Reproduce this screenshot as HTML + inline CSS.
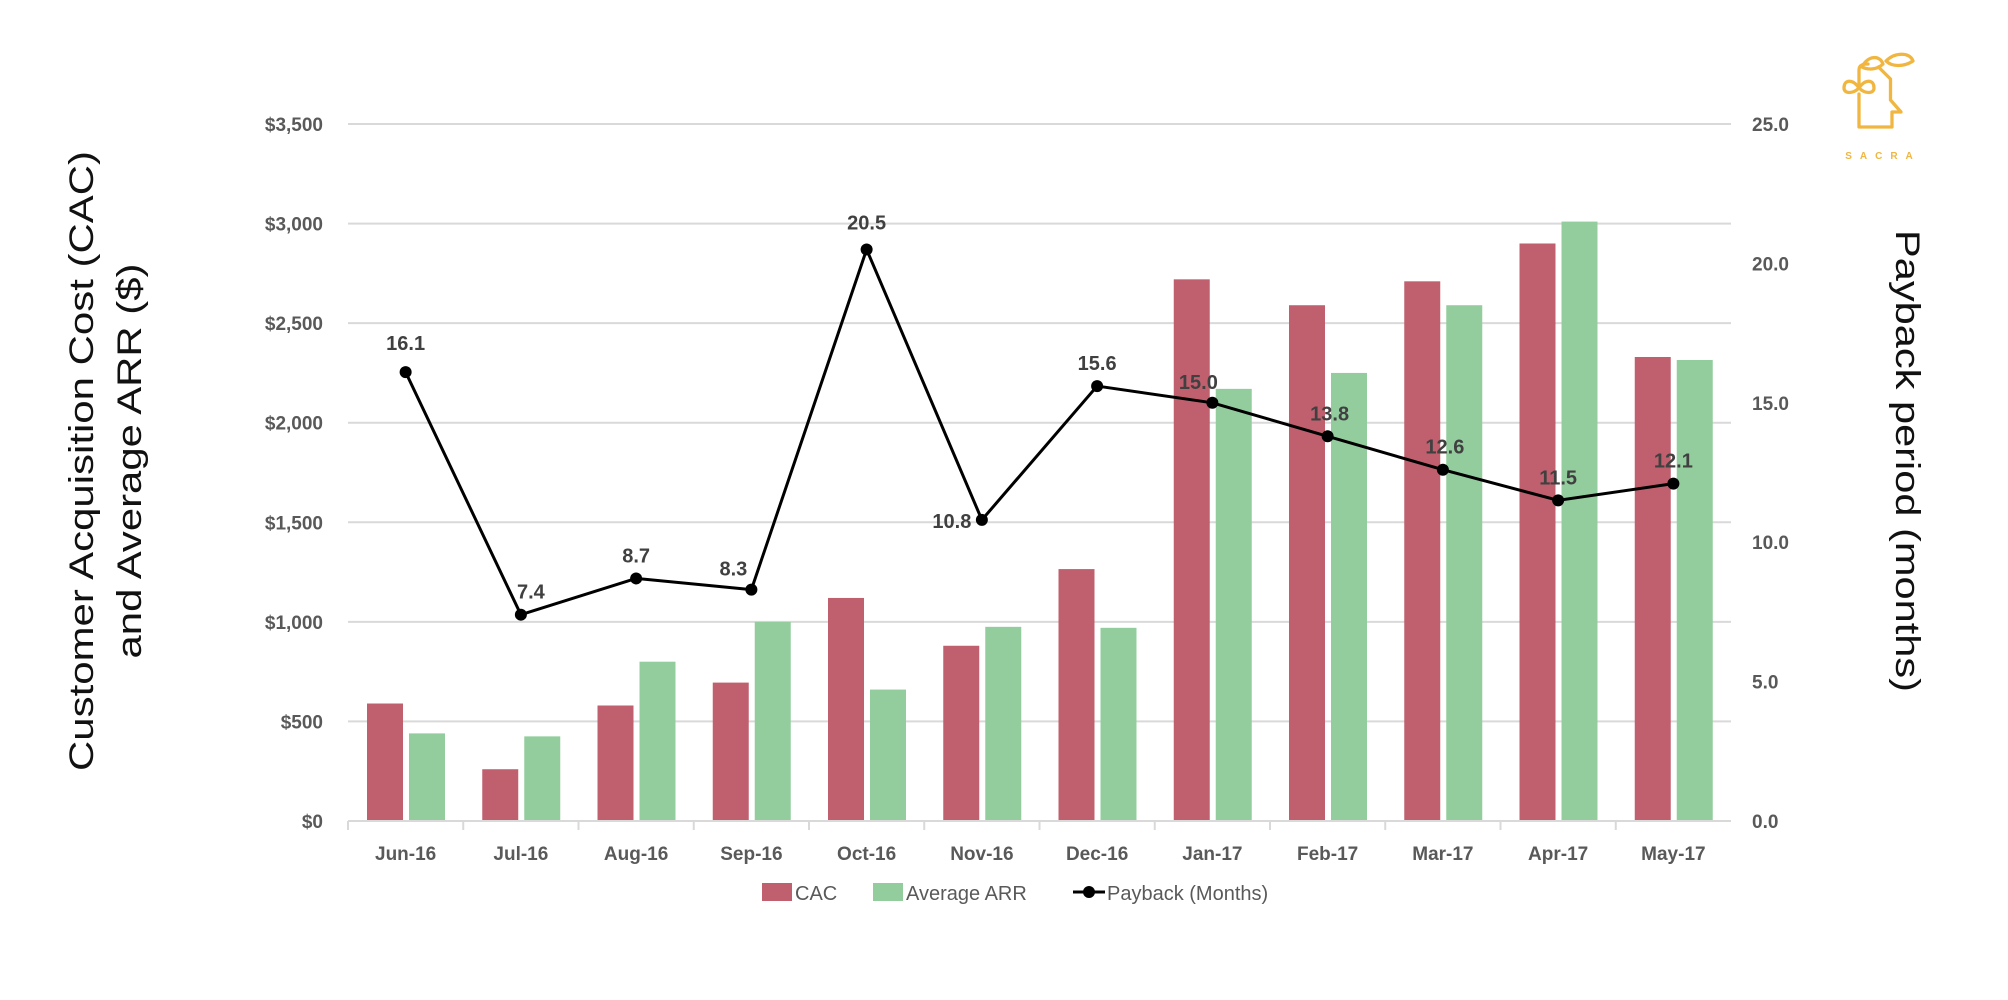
<!DOCTYPE html>
<html><head><meta charset="utf-8"><style>
html,body{margin:0;padding:0;background:#fff;}
svg{display:block;font-family:"Liberation Sans",Arial,sans-serif;}
</style></head><body>
<svg id="chart" width="2008" height="1000" viewBox="0 0 2008 1000">
<g id="grid"></g>
<g id="bars"></g>
<g id="line"></g>
<g id="axes"></g>
<text transform="translate(93,461) rotate(-90)" text-anchor="middle" font-size="34" fill="#111" textLength="620" lengthAdjust="spacingAndGlyphs">Customer Acquisition Cost (CAC)</text>
<text transform="translate(141,461) rotate(-90)" text-anchor="middle" font-size="34" fill="#111" textLength="395" lengthAdjust="spacingAndGlyphs">and Average ARR ($)</text>
<text transform="translate(1896,461) rotate(90)" text-anchor="middle" font-size="34" fill="#111" textLength="462" lengthAdjust="spacingAndGlyphs">Payback period (months)</text>
<g fill="none" stroke="#F0B640" stroke-width="2.2" stroke-linecap="round" stroke-linejoin="round" transform="translate(1880,100) scale(1.5) translate(-1880,-100)">
<path d="M1866 96 v22 h22 v-10 h6 l-7 -8 v-14 l-8 -8" />
<path d="M1866 92 c-4 -6 -10 -6 -10 0 c0 4 6 4 10 0 c4 4 10 4 10 0 c0 -6 -6 -6 -10 0 z"/>
<path d="M1868 78 c4 -8 12 -8 14 -2 c-4 4 -10 4 -14 2 z M1884 74 c6 -6 16 -6 18 0 c-6 4 -14 4 -18 0 z"/>
<path d="M1866 92 v-12 c0 -4 4 -4 6 -4"/>
</g>
<text x="1883" y="159" text-anchor="middle" font-size="10" fill="#F0B640" letter-spacing="8" font-weight="bold">SACRA</text>
<g id="legend"></g>
</svg>
<script>
const categories=["Jun-16","Jul-16","Aug-16","Sep-16","Oct-16","Nov-16","Dec-16","Jan-17","Feb-17","Mar-17","Apr-17","May-17"];
const cacValues=[590,260,580,695,1120,880,1265,2720,2590,2710,2900,2330];
const arrValues=[440,425,800,1000,660,975,970,2170,2250,2590,3010,2315];
const paybackValues=[16.1,7.4,8.7,8.3,20.5,10.8,15.6,15.0,13.8,12.6,11.5,12.1];
const leftTicks=[0,500,1000,1500,2000,2500,3000,3500];
const leftTickLabels=["$0","$500","$1,000","$1,500","$2,000","$2,500","$3,000","$3,500"];
const rightTicks=[0,5,10,15,20,25];
const rightTickLabels=["0.0","5.0","10.0","15.0","20.0","25.0"];

const NS="http://www.w3.org/2000/svg";
const X0=348,X1=1731,Y0=821,Y1=124;
const bw=(X1-X0)/categories.length;
function yL(v){return Y0-(v/3500)*(Y0-Y1);}
function yR(v){return Y0-(v/25)*(Y0-Y1);}
function xC(i){return X0+bw*i;}
function mk(tag,attrs,parent){const e=document.createElementNS(NS,tag);for(const k in attrs)e.setAttribute(k,attrs[k]);parent.appendChild(e);return e;}
const grid=document.getElementById('grid'),bars=document.getElementById('bars'),line=document.getElementById('line'),axes=document.getElementById('axes'),legend=document.getElementById('legend');

leftTicks.forEach((t,i)=>{
  const y=yL(t);
  if(t>0){const g=mk('line',{x1:X0,x2:X1,y1:y,y2:y,stroke:'#d9d9d9','stroke-width':2},grid);
  
  }
  const tx=mk('text',{x:323,y:y+7,'text-anchor':'end','font-size':19,'font-weight':'bold',fill:'#595959'},axes);
  tx.textContent=leftTickLabels[i];
  
  
});
rightTicks.forEach((t,i)=>{
  const tx=mk('text',{x:1752,y:yR(t)+7,'font-size':19,'font-weight':'bold',fill:'#595959'},axes);
  tx.textContent=rightTickLabels[i];
  
  
});
const base=mk('line',{x1:X0,x2:X1,y1:Y0,y2:Y0,stroke:'#d9d9d9','stroke-width':2},axes);


categories.forEach((c,i)=>{
  const tk=mk('line',{x1:xC(i),x2:xC(i),y1:Y0,y2:Y0+9,stroke:'#d9d9d9','stroke-width':2},axes);
  
  
  const tx=mk('text',{x:xC(i)+bw/2,y:860,'text-anchor':'middle','font-size':19,'font-weight':'bold',fill:'#595959'},axes);
  tx.textContent=c;
  
  
  const r1=mk('rect',{x:xC(i)+19,y:yL(cacValues[i]),width:36,height:Y0-yL(cacValues[i]),fill:'#C0606E'},bars);
  
  
  const r2=mk('rect',{x:xC(i)+61,y:yL(arrValues[i]),width:36,height:Y0-yL(arrValues[i]),fill:'#93CD9E'},bars);
  
  
});
const pts=paybackValues.map((v,i)=>[xC(i)+bw/2,yR(v)]);
const pl=mk('polyline',{points:pts.map(p=>p.join(',')).join(' '),fill:'none',stroke:'#000','stroke-width':3},line);


const offs=[[0,-22],[10,-16],[0,-16],[-18,-14],[0,-20],[-30,8],[0,-16],[-14,-14],[2,-16],[2,-16],[0,-16],[0,-16]];
pts.forEach((p,i)=>{
  const c=mk('circle',{cx:p[0],cy:p[1],r:6,fill:'#000'},line);
  
  
  const o=offs[i];
  const tx=mk('text',{x:p[0]+o[0],y:p[1]+o[1],'text-anchor':'middle','font-size':20,'font-weight':'bold',fill:'#404040'},line);
  tx.textContent=paybackValues[i].toFixed(1);
  
  
});
const lg=[['CAC','#C0606E',762],['Average ARR','#93CD9E',873]];
lg.forEach(l=>{
  const r=mk('rect',{x:l[2],y:883,width:30,height:18,fill:l[1]},legend);
  
  
  const t=mk('text',{x:l[2]+33,y:900,'font-size':20,fill:'#595959'},legend);
  t.textContent=l[0];
  
  
});
const ll=mk('line',{x1:1073,x2:1105,y1:892,y2:892,stroke:'#000','stroke-width':3},legend);


const lc=mk('circle',{cx:1089,cy:892,r:6,fill:'#000'},legend);


const lt=mk('text',{x:1107,y:900,'font-size':20,fill:'#595959'},legend);
lt.textContent='Payback (Months)';


</script>
</body></html>
